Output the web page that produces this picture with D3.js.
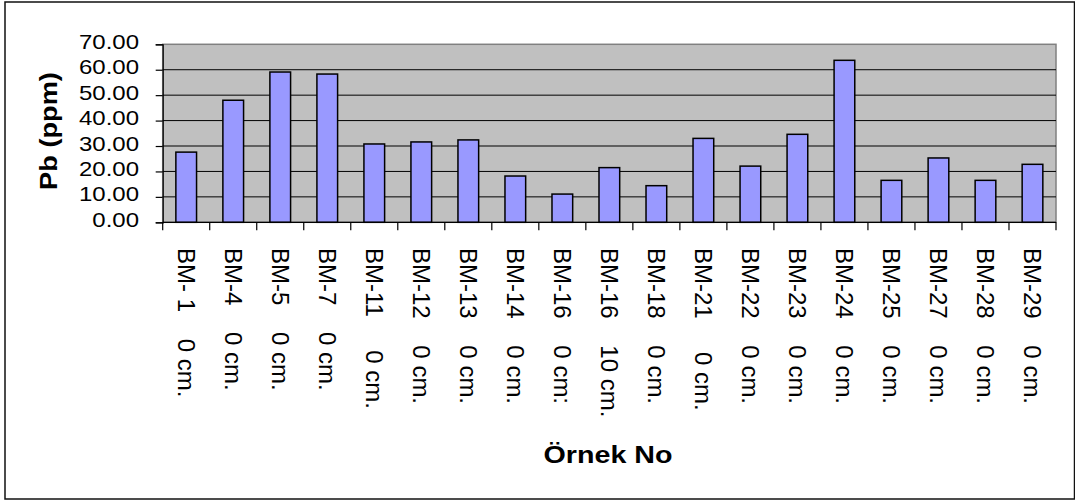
<!DOCTYPE html>
<html>
<head>
<meta charset="utf-8">
<script src="https://cdn.jsdelivr.net/npm/d3@7"></script>
<style>
	body { margin: 0; background: #fff; }
	text { font-family: Arial, "Liberation Sans", sans-serif; }
</style>
</head>
<body>
<div id="chart"></div>
<script>
// data
var sample_ids = ["BM- 1", "BM-4", "BM-5", "BM-7", "BM-11", "BM-12", "BM-13", "BM-14", "BM-16", "BM-16",
	"BM-18", "BM-21", "BM-22", "BM-23", "BM-24", "BM-25", "BM-27", "BM-28", "BM-29"];
var depths = ["0 cm.", "0 cm.", "0 cm.", "0 cm.", "0 cm.", "0 cm.", "0 cm.", "0 cm.", "0 cm:", "10 cm.",
	"0 cm.", "0 cm.", "0 cm.", "0 cm.", "0 cm.", "0 cm.", "0 cm.", "0 cm.", "0 cm."];
var gaps = [4, 4, 4, 4, 5, 4, 4, 4, 4, 4, 4, 5, 4, 4, 4, 4, 4, 4, 4];
var pb_values = [27.6, 48.0, 59.1, 58.3, 30.8, 31.6, 32.4, 18.2, 11.1, 21.5,
	14.4, 33.0, 22.1, 34.6, 63.7, 16.5, 25.3, 16.5, 22.8];
var y_ticks = [0, 10, 20, 30, 40, 50, 60, 70];
var y_title = "Pb (ppm)";
var x_title = "Örnek No";

var data = sample_ids.map(function (d, i) {
	return { key: i, label: d + " ".repeat(gaps[i]) + depths[i], value: pb_values[i] };
});

var width = 1075,
	height = 502;
var plot_box = { left: 162.7, right: 1056, top: 44.3, bottom: 222.3 };
var stretch = 1.2;

var svg = d3.select("#chart")
	.append("svg")
	.attr("width", width)
	.attr("height", height);

svg.append("rect")
	.attr("width", width)
	.attr("height", height)
	.attr("fill", "#fff");

// outer frame
svg.append("rect")
	.attr("x", 5)
	.attr("y", 2)
	.attr("width", 1069.5)
	.attr("height", 497)
	.attr("fill", "none")
	.attr("stroke", "#111")
	.attr("stroke-width", 1.5);

var x_scale = d3.scaleBand()
	.domain(data.map(function (d) { return d.key; }))
	.range([plot_box.left, plot_box.right])
	.paddingInner(0.56)
	.paddingOuter(0.28);

var y_scale = d3.scaleLinear()
	.domain([0, 70])
	.range([plot_box.bottom, plot_box.top]);

// plot area
svg.append("rect")
	.attr("x", plot_box.left)
	.attr("y", plot_box.top)
	.attr("width", plot_box.right - plot_box.left)
	.attr("height", plot_box.bottom - plot_box.top)
	.attr("fill", "#c0c0c0")
	.attr("stroke", "#808080")
	.attr("stroke-width", 1.5);

// gridlines
svg.append("g")
	.attr("class", "grid")
	.selectAll("line")
	.data(y_ticks.filter(function (t) { return t > 0 && t < 70; }))
	.enter()
	.append("line")
	.attr("x1", plot_box.left)
	.attr("x2", plot_box.right)
	.attr("y1", function (d) { return y_scale(d); })
	.attr("y2", function (d) { return y_scale(d); })
	.attr("stroke", "#000")
	.attr("stroke-width", 1);

// bars
svg.append("g")
	.attr("class", "bars")
	.selectAll("rect")
	.data(data)
	.enter()
	.append("rect")
	.attr("x", function (d) { return x_scale(d.key); })
	.attr("y", function (d) { return y_scale(d.value); })
	.attr("width", x_scale.bandwidth())
	.attr("height", function (d) { return y_scale(0) - y_scale(d.value); })
	.attr("fill", "#9999ff")
	.attr("stroke", "#000")
	.attr("stroke-width", 1.5);

// y axis
var y_axis = svg.append("g")
	.attr("transform", "translate(" + plot_box.left + ",0)")
	.call(d3.axisLeft(y_scale).tickValues(y_ticks).tickSize(7).tickFormat(""));
y_axis.select(".domain").attr("stroke", "#000").attr("stroke-width", 1.2);
y_axis.selectAll(".tick line").attr("stroke", "#000").attr("stroke-width", 1.2);

svg.append("g")
	.attr("class", "y_labels")
	.selectAll("text")
	.data(y_ticks)
	.enter()
	.append("text")
	.attr("transform", function (d) {
		return "translate(139," + (y_scale(d) + 4.5) + ") scale(" + stretch + ",1)";
	})
	.attr("text-anchor", "end")
	.attr("font-size", 20)
	.attr("fill", "#000")
	.text(function (d) { return d3.format(".2f")(d); });

// x axis: line and ticks between categories
var step = x_scale.step();
svg.append("line")
	.attr("x1", plot_box.left)
	.attr("x2", plot_box.right)
	.attr("y1", plot_box.bottom)
	.attr("y2", plot_box.bottom)
	.attr("stroke", "#000")
	.attr("stroke-width", 1.2);

svg.append("g")
	.attr("class", "x_ticks")
	.selectAll("line")
	.data(d3.range(data.length + 1))
	.enter()
	.append("line")
	.attr("x1", function (i) { return plot_box.left + i * step; })
	.attr("x2", function (i) { return plot_box.left + i * step; })
	.attr("y1", plot_box.bottom)
	.attr("y2", plot_box.bottom + 8)
	.attr("stroke", "#000")
	.attr("stroke-width", 1.2);

// category labels, turned to read downwards
svg.append("g")
	.attr("class", "x_labels")
	.selectAll("text")
	.data(data)
	.enter()
	.append("text")
	.attr("transform", function (d) {
		var cx = x_scale(d.key) + x_scale.bandwidth() / 2;
		return "translate(" + cx + ",248) rotate(90)";
	})
	.attr("dy", "0.35em")
	.attr("font-size", 24)
	.attr("fill", "#000")
	.style("white-space", "pre")
	.text(function (d) { return d.label; });

// axis titles
svg.append("text")
	.attr("transform", "translate(57,131) rotate(-90) scale(1.11,1)")
	.attr("text-anchor", "middle")
	.attr("font-size", 24.5)
	.attr("font-weight", "bold")
	.text(y_title);

svg.append("text")
	.attr("transform", "translate(608,463.3) scale(1.17,1)")
	.attr("text-anchor", "middle")
	.attr("font-size", 24.5)
	.attr("font-weight", "bold")
	.text(x_title);
</script>
</body>
</html>
